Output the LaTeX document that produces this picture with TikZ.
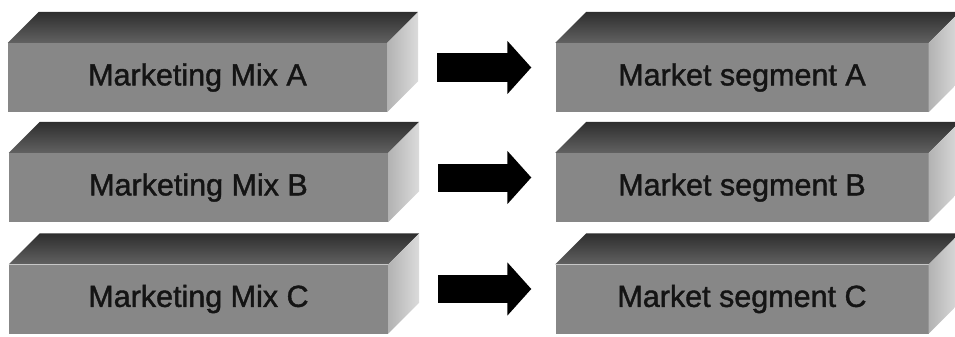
\documentclass[tikz,border=0pt]{standalone}
\usepackage{fontspec}
\setmainfont{Liberation Sans}
\newfontfamily\boxfont{Liberation Sans}[FakeBold=1.3]
\usetikzlibrary{arrows.meta}

\begin{document}
\begin{tikzpicture}
  [x=1pt,y=-1pt,
   front/.style={rectangle,fill=black!47,minimum height=69pt,inner sep=0pt,
     font=\boxfont\fontsize{30.5}{32}\selectfont,text=black!92},
   topface/.style={top color=black!82,bottom color=black!62},
   sideface/.style={left color=black!30,right color=black!14},
   bigarrow/.style={line width=28pt,-{Triangle[length=24pt,width=52pt]}}]
  \useasboundingbox (0,0) rectangle (955,337);
  \clip (0,0) rectangle (955,337);

  \node[front,minimum width=379pt] (mixA) at (197.5,77.5)  {Marketing Mix A};
  \node[front,minimum width=379pt] (mixB) at (198.5,187.5) {Marketing Mix B};
  \node[front,minimum width=379pt] (mixC) at (198.5,299)   {Marketing Mix C};
  \node[front,minimum width=373pt] (segA) at (742,77.5)  {Market segment A};
  \node[front,minimum width=373pt] (segB) at (742,187.5) {Market segment B};
  \node[front,minimum width=373pt] (segC) at (742,299)   {Market segment C};

  \foreach \n in {mixA,mixB,mixC,segA,segB,segC}{
    \shade[topface] (\n.north west) -- ++(31,-31) -- ([shift={(31,-31)}]\n.north east)
      -- (\n.north east) -- cycle;
    \shade[sideface] (\n.north east) -- ++(31,-31) -- ([shift={(31,-31)}]\n.south east)
      -- (\n.south east) -- cycle;
  }

  \foreach \from/\to in {mixA/segA,mixB/segB,mixC/segC}
    \draw[bigarrow] ([shift={(50,-10)}]\from.east) -- ([shift={(-24,-10)}]\to.west);

\end{tikzpicture}
\end{document}
